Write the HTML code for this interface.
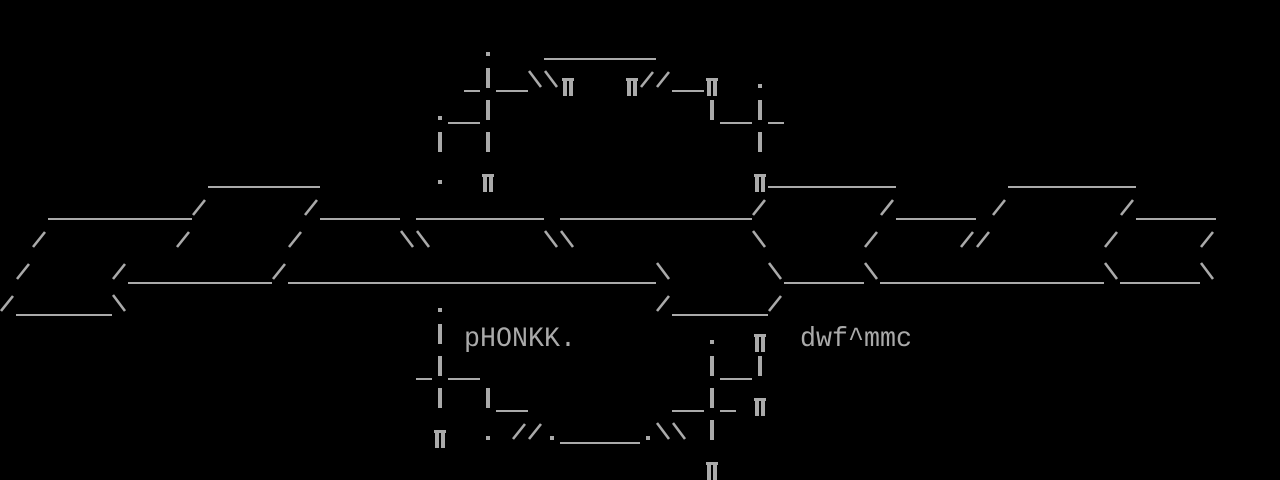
<!DOCTYPE html>
<html><head><meta charset="utf-8"><style>
html,body{margin:0;padding:0;background:#000;width:1280px;height:480px;overflow:hidden}
svg{display:block}
</style></head><body>
<svg id="s" width="1280" height="480" xmlns="http://www.w3.org/2000/svg">
<rect width="1280" height="480" fill="#000"/>
<g id="art" fill="#aaaaaa" stroke="#aaaaaa"></g>
<text x="464" y="346" font-family="Liberation Mono, monospace" font-size="28" fill="#aaaaaa" textLength="112" lengthAdjust="spacingAndGlyphs">pHONKK.</text>
<text x="800" y="346" font-family="Liberation Mono, monospace" font-size="28" fill="#aaaaaa" textLength="112" lengthAdjust="spacingAndGlyphs">dwf^mmc</text>
</svg>
<script>
var U=function(n){return new Array(n+1).join("_");};
var rows={
1:[[30,"."],[34,U(7)]],
2:[[29,"_|__\\\\π"],[39,"π//__π"],[47,"."]],
3:[[27,".__|"],[44,"|__|_"]],
4:[[27,"|"],[30,"|"],[47,"|"]],
5:[[13,U(7)],[27,"."],[30,"π"],[47,"π"+U(8)],[63,U(8)]],
6:[[3,U(9)],[12,"/"],[19,"/"+U(5)],[26,U(8)],[35,U(12)],[47,"/"],[55,"/"+U(5)],[62,"/"],[70,"/"+U(5)]],
7:[[2,"/"],[11,"/"],[18,"/"],[25,"\\\\"],[34,"\\\\"],[47,"\\"],[54,"/"],[60,"//"],[69,"/"],[75,"/"]],
8:[[1,"/"],[7,"/"+U(9)+"/"],[18,U(23)],[41,"\\"],[48,"\\"+U(5)+"\\"],[55,U(14)],[69,"\\"+U(5)+"\\"]],
9:[[0,"/"+U(6)+"\\"],[27,"."],[41,"/"+U(6)+"/"]],
10:[[27,"|"],[44,"."],[47,"π"]],
11:[[26,"_|__"],[44,"|__|"]],
12:[[27,"|"],[30,"|__"],[42,"__|_"],[47,"π"]],
13:[[27,"π"],[30,"."],[32,"//."+U(5)+".\\\\"],[44,"|"]],
14:[[44,"π"]]
};
var g=document.getElementById("art"),NS="http://www.w3.org/2000/svg";
function R(x,y,w,h){var e=document.createElementNS(NS,"rect");e.setAttribute("x",x);e.setAttribute("y",y);e.setAttribute("width",w);e.setAttribute("height",h);e.setAttribute("stroke","none");g.appendChild(e);}
function L(x1,y1,x2,y2){var e=document.createElementNS(NS,"line");e.setAttribute("x1",x1);e.setAttribute("y1",y1);e.setAttribute("x2",x2);e.setAttribute("y2",y2);e.setAttribute("stroke-width","2.6");g.appendChild(e);}
for(var r in rows){var y0=r*32;rows[r].forEach(function(it){var c=it[0],s=it[1];for(var i=0;i<s.length;i++){var x0=(c+i)*16,ch=s[i];
if(ch=="_")R(x0,y0+26,16,2);
else if(ch=="|")R(x0+6,y0+4,4,20);
else if(ch==".")R(x0+6,y0+20,4,4);
else if(ch=="/")L(x0+1,y0+23,x0+13,y0+8);
else if(ch=="\\")L(x0+1,y0+7,x0+13,y0+23);
else if(ch=="π"){R(x0+2,y0+14,12,3);R(x0+3,y0+14,4,18);R(x0+9,y0+14,4,18);}
}});}
</script>
</body></html>
